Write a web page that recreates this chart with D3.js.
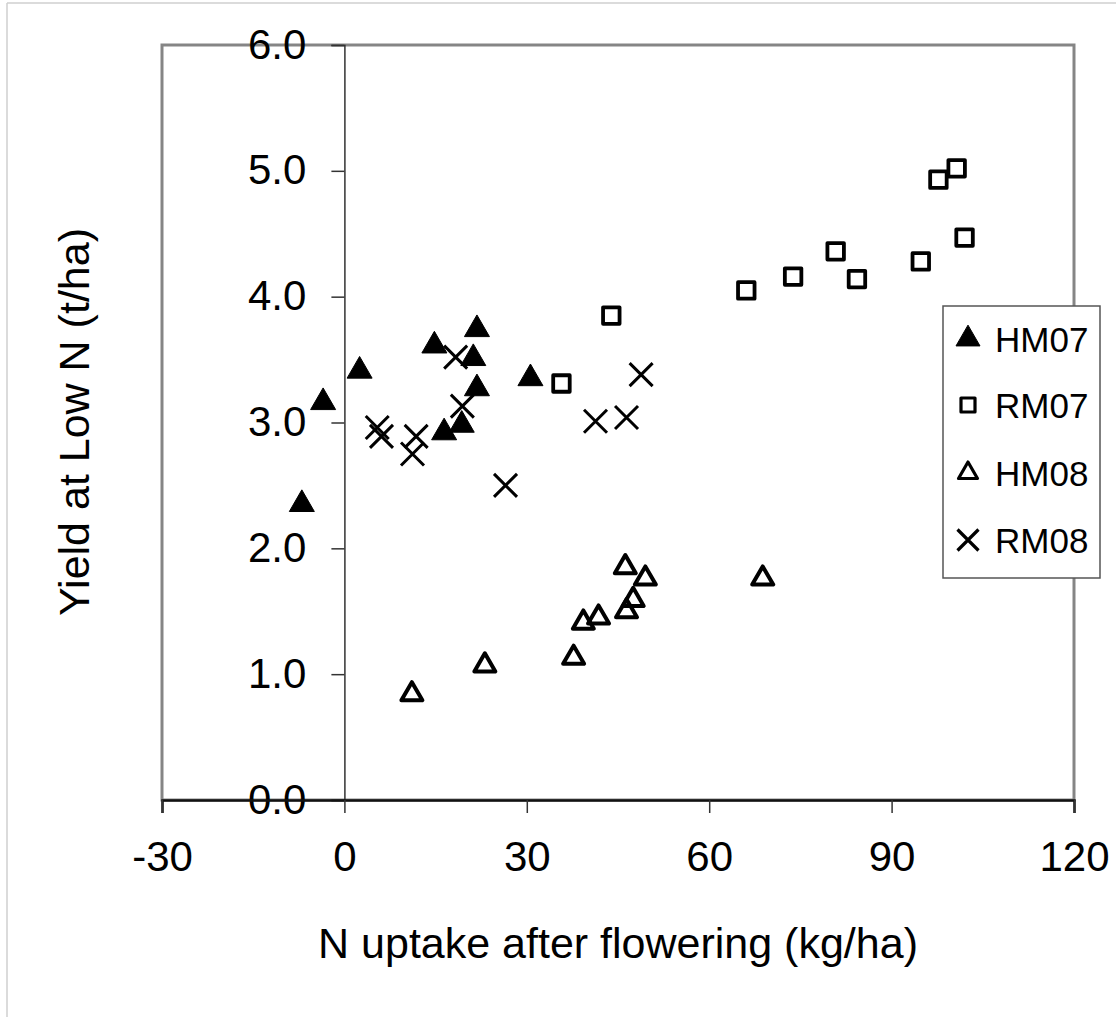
<!DOCTYPE html>
<html>
<head>
<meta charset="utf-8">
<script src="https://cdn.jsdelivr.net/npm/d3@7"></script>
<style>
  html, body { margin: 0; padding: 0; background: #fff; }
  svg { display: block; font-family: "Liberation Sans", Arial, sans-serif; }
</style>
</head>
<body>
<svg id="chart" width="1116" height="1017"></svg>
<script>
// ---- Data ----
const HM07_x = [-7.0, -3.5, 2.5, 14.8, 21.8, 21.2, 21.8, 19.3, 16.4, 30.6];
const HM07_y = [2.35, 3.16, 3.41, 3.61, 3.74, 3.51, 3.27, 2.98, 2.92, 3.35];
const RM07_x = [43.9, 35.7, 66.1, 73.8, 80.8, 84.3, 94.8, 102.0, 97.7, 100.7];
const RM07_y = [3.85, 3.31, 4.05, 4.16, 4.36, 4.14, 4.28, 4.47, 4.93, 5.02];
const HM08_x = [11.1, 23.1, 37.7, 39.3, 41.8, 46.4, 47.5, 46.2, 49.5, 68.8];
const HM08_y = [0.84, 1.07, 1.13, 1.41, 1.45, 1.50, 1.59, 1.85, 1.76, 1.76];
const RM08_x = [5.4, 6.1, 11.8, 11.2, 18.3, 19.4, 26.5, 41.3, 46.4, 48.8];
const RM08_y = [2.96, 2.89, 2.89, 2.75, 3.52, 3.13, 2.50, 3.01, 3.04, 3.38];
const seriesNames = ["HM07", "RM07", "HM08", "RM08"];
const xTicks = [-30, 0, 30, 60, 90, 120];
const yTicks = [0, 1, 2, 3, 4, 5, 6];
const xTitle = "N uptake after flowering (kg/ha)";
const yTitle = "Yield at Low N (t/ha)";

// ---- Layout ----
const svg = d3.select("#chart");
const x = d3.scaleLinear().domain([-30, 120]).range([162, 1074]);
const y = d3.scaleLinear().domain([0, 6]).range([800, 45]);

// outer light frame (left/top)
svg.append("line").attr("x1", 7).attr("x2", 7).attr("y1", 3).attr("y2", 1017)
  .attr("stroke", "#cfcfcf").attr("stroke-width", 1.5);
svg.append("line").attr("x1", 7).attr("x2", 1116).attr("y1", 3).attr("y2", 3)
  .attr("stroke", "#cfcfcf").attr("stroke-width", 1.5);

// plot border
svg.append("rect")
  .attr("x", x(-30)).attr("y", y(6))
  .attr("width", x(120) - x(-30)).attr("height", y(0) - y(6))
  .attr("fill", "none").attr("stroke", "#858585").attr("stroke-width", 3);

// y axis at x = 0
const yAxis = svg.append("g").attr("transform", `translate(${x(0)},0)`)
  .call(d3.axisLeft(y).tickValues(yTicks).tickSize(13).tickPadding(25).tickFormat(d3.format(".1f")));
yAxis.select(".domain").attr("stroke", "#333").attr("stroke-width", 1.5);
yAxis.selectAll(".tick line").attr("stroke", "#333").attr("stroke-width", 1.5);
yAxis.selectAll(".tick text").attr("font-size", 42).attr("fill", "#000")
  .attr("font-family", "Liberation Sans, Arial, sans-serif")
  .attr("dy", null).attr("y", 13);

// x axis at y = 0
const xAxis = svg.append("g").attr("transform", `translate(0,${y(0)})`)
  .call(d3.axisBottom(x).tickValues(xTicks).tickSize(13).tickPadding(28).tickFormat(d => String(d)));
xAxis.select(".domain").attr("stroke", "#111").attr("stroke-width", 2.5);
xAxis.selectAll(".tick line").attr("stroke", "#333").attr("stroke-width", 1.5);
xAxis.selectAll(".tick text").attr("font-size", 42).attr("fill", "#000")
  .attr("font-family", "Liberation Sans, Arial, sans-serif");

// axis titles
svg.append("text").attr("x", 618).attr("y", 958).attr("text-anchor", "middle")
  .attr("font-size", 43).attr("fill", "#000").text(xTitle);
svg.append("text").attr("transform", "translate(89,422) rotate(-90)").attr("text-anchor", "middle")
  .attr("font-size", 43).attr("fill", "#000").text(yTitle);

// ---- Symbols ----
function triType(side) {
  return { draw(ctx) {
    const h = side * Math.sqrt(3) / 2;
    ctx.moveTo(0, -2 * h / 3);
    ctx.lineTo(side / 2, h / 3);
    ctx.lineTo(-side / 2, h / 3);
    ctx.closePath();
  }};
}
function squareType(side) {
  return { draw(ctx) { ctx.rect(-side / 2, -side / 2, side, side); } };
}
function crossType(half) {
  return { draw(ctx) {
    ctx.moveTo(-half, -half); ctx.lineTo(half, half);
    ctx.moveTo(-half, half); ctx.lineTo(half, -half);
  }};
}
const styles = {
  HM07: { type: triType(25), fill: "#000", stroke: "#000", sw: 1 },
  RM07: { type: squareType(16.5), fill: "none", stroke: "#000", sw: 3.8 },
  HM08: { type: triType(21), fill: "none", stroke: "#000", sw: 4 },
  RM08: { type: crossType(11.5), fill: "none", stroke: "#000", sw: 3 }
};
const seriesData = {
  HM07: HM07_x.map((v, i) => [v, HM07_y[i]]),
  RM07: RM07_x.map((v, i) => [v, RM07_y[i]]),
  HM08: HM08_x.map((v, i) => [v, HM08_y[i]]),
  RM08: RM08_x.map((v, i) => [v, RM08_y[i]])
};
function drawSym(g, name) {
  const s = styles[name];
  return g.append("path")
    .attr("d", d3.symbol().type(s.type)())
    .attr("fill", s.fill).attr("stroke", s.stroke).attr("stroke-width", s.sw)
    .attr("stroke-linejoin", "round");
}
seriesNames.forEach(name => {
  const g = svg.append("g");
  seriesData[name].forEach(d => {
    drawSym(g, name).attr("transform", `translate(${x(d[0])},${y(d[1])})`);
  });
});

// ---- Legend ----
const lg = svg.append("g");
lg.append("rect").attr("x", 943).attr("y", 306).attr("width", 157).attr("height", 272)
  .attr("fill", "#fff").attr("stroke", "#555").attr("stroke-width", 1.5);
const legendY = [339, 405, 473, 540];
seriesNames.forEach((name, i) => {
  const s = styles[name];
  let type = s.type;
  if (name === "HM07") type = triType(24);
  if (name === "RM07") type = squareType(14);
  if (name === "HM08") type = triType(19);
  if (name === "RM08") type = crossType(10.5);
  lg.append("path").attr("d", d3.symbol().type(type)())
    .attr("fill", s.fill).attr("stroke", s.stroke)
    .attr("stroke-width", name === "HM07" ? 1 : 3.2).attr("stroke-linejoin", "round")
    .attr("transform", `translate(968,${legendY[i]})`);
  lg.append("text").attr("x", 995).attr("y", legendY[i] + 12.5)
    .attr("font-size", 35).attr("fill", "#000").text(name);
});
</script>
</body>
</html>
